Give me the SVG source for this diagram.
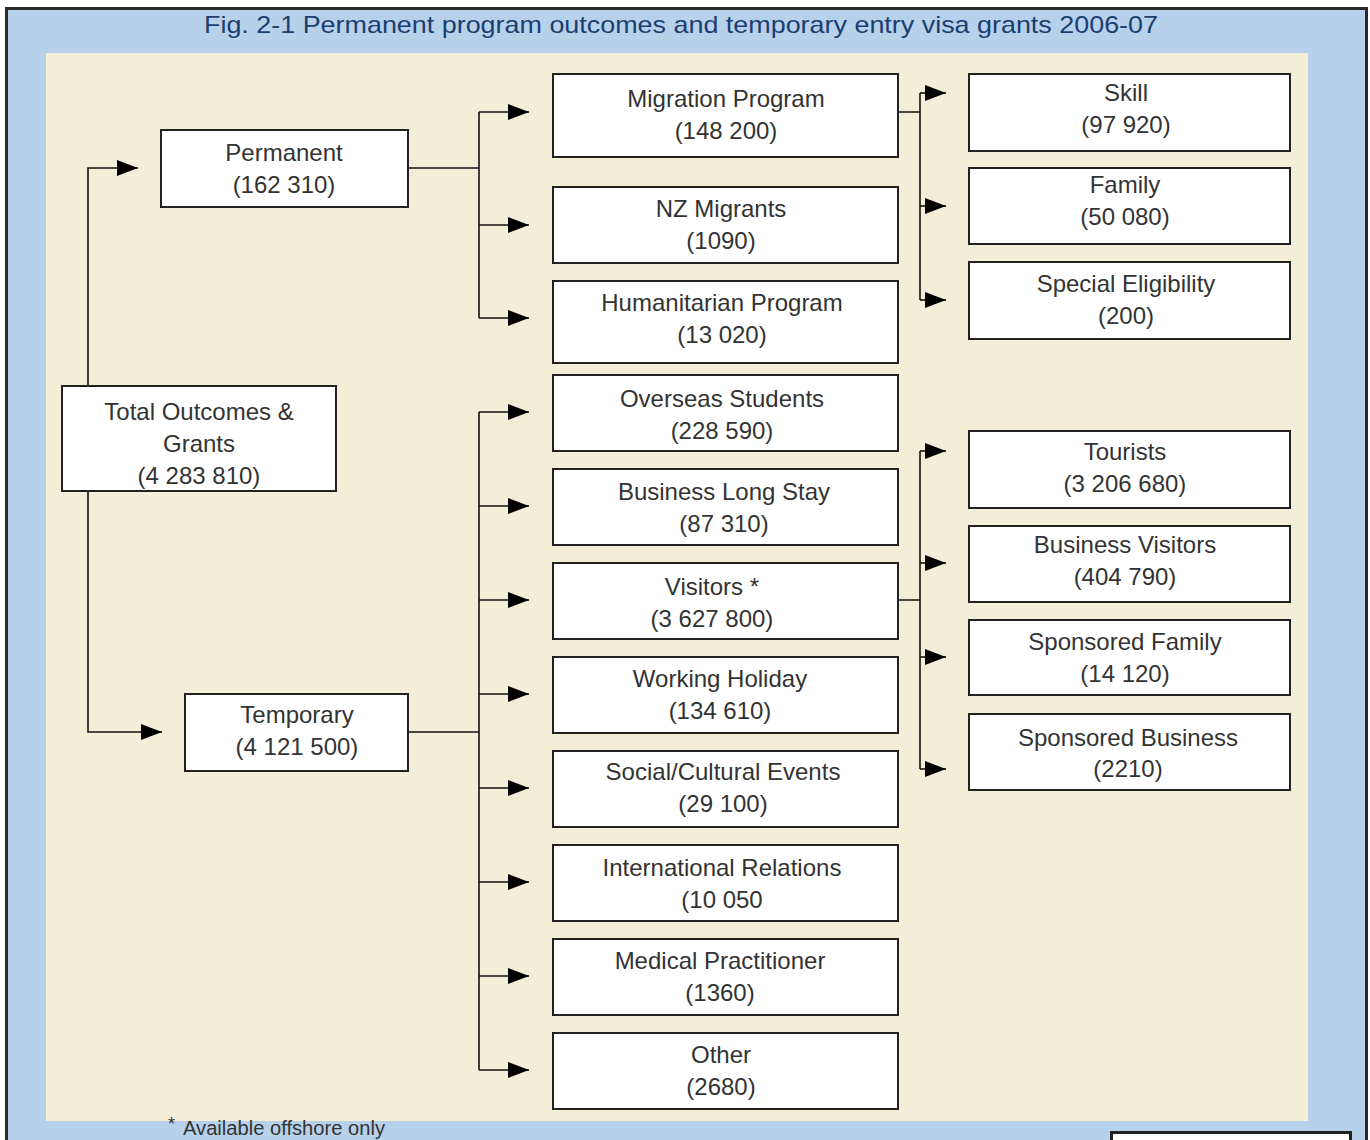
<svg xmlns="http://www.w3.org/2000/svg" width="1370" height="1140" viewBox="0 0 1370 1140">
<style>
.box{fill:#fff;stroke:#222;stroke-width:2}
.t{font-family:"Liberation Sans",Arial,sans-serif;font-size:24px;fill:#333;text-anchor:middle}
.c{fill:none;stroke:#111;stroke-width:1.6}
</style>
<defs>
<marker id="ah" markerUnits="userSpaceOnUse" markerWidth="22" markerHeight="18" refX="21" refY="8" orient="auto" viewBox="0 0 22 16">
<path d="M0,0 L21,8 L0,16 z" fill="#000"/>
</marker>
</defs>
<rect x="0" y="0" width="1370" height="1140" fill="#fff"/>
<rect x="6.5" y="8.5" width="1360" height="1145" fill="#B7D1EB" stroke="#2a2a2a" stroke-width="3"/>
<rect x="46" y="53" width="1262" height="1068" fill="#F3EED8"/>
<text x="681" y="33" font-family="'Liberation Sans',Arial,sans-serif" font-size="24" fill="#1B3E70" text-anchor="middle" textLength="954" lengthAdjust="spacingAndGlyphs">Fig. 2-1 Permanent program outcomes and temporary entry visa grants 2006-07</text>

<g id="connectors">
<path class="c" d="M88,386 V168 H138" marker-end="url(#ah)"/>
<path class="c" d="M88,491 V732 H162" marker-end="url(#ah)"/>
<path class="c" d="M408,168 H479 M479,112 V318"/>
<path class="c" d="M479,112 H529" marker-end="url(#ah)"/>
<path class="c" d="M479,225 H529" marker-end="url(#ah)"/>
<path class="c" d="M479,318 H529" marker-end="url(#ah)"/>
<path class="c" d="M408,732 H479 M479,412 V1070"/>
<path class="c" d="M479,412 H529" marker-end="url(#ah)"/>
<path class="c" d="M479,506 H529" marker-end="url(#ah)"/>
<path class="c" d="M479,600 H529" marker-end="url(#ah)"/>
<path class="c" d="M479,694 H529" marker-end="url(#ah)"/>
<path class="c" d="M479,788 H529" marker-end="url(#ah)"/>
<path class="c" d="M479,882 H529" marker-end="url(#ah)"/>
<path class="c" d="M479,976 H529" marker-end="url(#ah)"/>
<path class="c" d="M479,1070 H529" marker-end="url(#ah)"/>
<path class="c" d="M896,112 H920 M920,93 V300"/>
<path class="c" d="M920,93 H946" marker-end="url(#ah)"/>
<path class="c" d="M920,206 H946" marker-end="url(#ah)"/>
<path class="c" d="M920,300 H946" marker-end="url(#ah)"/>
<path class="c" d="M896,600 H920 M920,451 V769"/>
<path class="c" d="M920,451 H946" marker-end="url(#ah)"/>
<path class="c" d="M920,563 H946" marker-end="url(#ah)"/>
<path class="c" d="M920,657 H946" marker-end="url(#ah)"/>
<path class="c" d="M920,769 H946" marker-end="url(#ah)"/>
</g>

<g id="total"><rect class="box" x="62" y="386" width="274" height="105"/><text class="t" x="199" y="420">Total Outcomes &amp;</text><text class="t" x="199" y="452">Grants</text><text class="t" x="199" y="484">(4 283 810)</text></g>
<g id="permanent"><rect class="box" x="161" y="130" width="247" height="77"/><text class="t" x="284" y="161">Permanent</text><text class="t" x="284" y="193">(162 310)</text></g>
<g id="temporary"><rect class="box" x="185" y="694" width="223" height="77"/><text class="t" x="297" y="723">Temporary</text><text class="t" x="297" y="755">(4 121 500)</text></g>

<g id="migration"><rect class="box" x="553" y="74" width="345" height="83"/><text class="t" x="726" y="107">Migration Program</text><text class="t" x="726" y="139">(148 200)</text></g>
<g id="nz"><rect class="box" x="553" y="187" width="345" height="76"/><text class="t" x="721" y="217">NZ Migrants</text><text class="t" x="721" y="249">(1090)</text></g>
<g id="humanitarian"><rect class="box" x="553" y="281" width="345" height="82"/><text class="t" x="722" y="311">Humanitarian Program</text><text class="t" x="722" y="343">(13 020)</text></g>
<g id="students"><rect class="box" x="553" y="375" width="345" height="76"/><text class="t" x="722" y="407">Overseas Students</text><text class="t" x="722" y="439">(228 590)</text></g>
<g id="businesslong"><rect class="box" x="553" y="469" width="345" height="76"/><text class="t" x="724" y="500">Business Long Stay</text><text class="t" x="724" y="532">(87 310)</text></g>
<g id="visitors"><rect class="box" x="553" y="563" width="345" height="76"/><text class="t" x="712" y="595">Visitors *</text><text class="t" x="712" y="627">(3 627 800)</text></g>
<g id="working"><rect class="box" x="553" y="657" width="345" height="76"/><text class="t" x="720" y="687">Working Holiday</text><text class="t" x="720" y="719">(134 610)</text></g>
<g id="social"><rect class="box" x="553" y="751" width="345" height="76"/><text class="t" x="723" y="780">Social/Cultural Events</text><text class="t" x="723" y="812">(29 100)</text></g>
<g id="international"><rect class="box" x="553" y="845" width="345" height="76"/><text class="t" x="722" y="876">International Relations</text><text class="t" x="722" y="908">(10 050</text></g>
<g id="medical"><rect class="box" x="553" y="939" width="345" height="76"/><text class="t" x="720" y="969">Medical Practitioner</text><text class="t" x="720" y="1001">(1360)</text></g>
<g id="other"><rect class="box" x="553" y="1033" width="345" height="76"/><text class="t" x="721" y="1063">Other</text><text class="t" x="721" y="1095">(2680)</text></g>

<g id="skill"><rect class="box" x="969" y="74" width="321" height="77"/><text class="t" x="1126" y="101">Skill</text><text class="t" x="1126" y="133">(97 920)</text></g>
<g id="family"><rect class="box" x="969" y="168" width="321" height="76"/><text class="t" x="1125" y="193">Family</text><text class="t" x="1125" y="225">(50 080)</text></g>
<g id="special"><rect class="box" x="969" y="262" width="321" height="77"/><text class="t" x="1126" y="292">Special Eligibility</text><text class="t" x="1126" y="324">(200)</text></g>
<g id="tourists"><rect class="box" x="969" y="431" width="321" height="77"/><text class="t" x="1125" y="460">Tourists</text><text class="t" x="1125" y="492">(3 206 680)</text></g>
<g id="businessvisitors"><rect class="box" x="969" y="526" width="321" height="76"/><text class="t" x="1125" y="553">Business Visitors</text><text class="t" x="1125" y="585">(404 790)</text></g>
<g id="sponsoredfamily"><rect class="box" x="969" y="620" width="321" height="75"/><text class="t" x="1125" y="650">Sponsored Family</text><text class="t" x="1125" y="682">(14 120)</text></g>
<g id="sponsoredbusiness"><rect class="box" x="969" y="714" width="321" height="76"/><text class="t" x="1128" y="746">Sponsored Business</text><text class="t" x="1128" y="777">(2210)</text></g>

<text x="168" y="1130" font-family="'Liberation Sans',Arial,sans-serif" font-size="18" fill="#333">*</text>
<text x="183" y="1135" font-family="'Liberation Sans',Arial,sans-serif" font-size="20" fill="#333" textLength="202" lengthAdjust="spacingAndGlyphs">Available offshore only</text>
<rect x="1111.5" y="1132.5" width="239" height="20" fill="#fff" stroke="#222" stroke-width="3"/>
</svg>
